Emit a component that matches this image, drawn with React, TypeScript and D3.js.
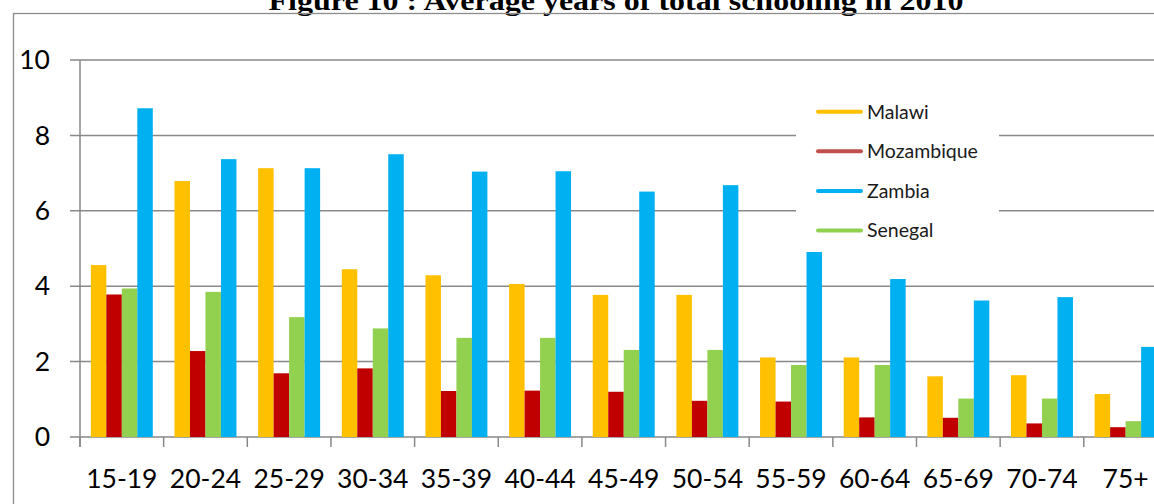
import React from "react";
import * as d3 from "d3";

const categories = ["15-19", "20-24", "25-29", "30-34", "35-39", "40-44", "45-49", "50-54", "55-59", "60-64", "65-69", "70-74", "75+"];
const malawi = [4.56, 6.79, 7.13, 4.45, 4.29, 4.06, 3.77, 3.77, 2.11, 2.11, 1.61, 1.64, 1.14];
const mozambique = [3.78, 2.28, 1.69, 1.82, 1.22, 1.23, 1.2, 0.96, 0.94, 0.52, 0.51, 0.36, 0.26];
const senegal = [3.94, 3.85, 3.18, 2.88, 2.63, 2.63, 2.31, 2.31, 1.91, 1.91, 1.02, 1.02, 0.42];
const zambia = [8.72, 7.37, 7.13, 7.5, 7.04, 7.05, 6.51, 6.68, 4.94, 4.19, 3.62, 3.71, 2.39];
const yTicks = [0, 2, 4, 6, 8, 10];
const legendOrder = ["Malawi", "Mozambique", "Zambia", "Senegal"];
const title = "Figure 10 : Average years of total schooling in 2010";

const series = [
  { name: "Malawi", values: malawi, color: "#FFC000", legendColor: "#FFC000" },
  { name: "Mozambique", values: mozambique, color: "#C00000", legendColor: "#C0504D" },
  { name: "Senegal", values: senegal, color: "#92D050", legendColor: "#92D050" },
  { name: "Zambia", values: zambia, color: "#00B0F0", legendColor: "#00B0F0" },
];

export default function App() {
  const W = 1154, H = 504;
  const left = 80, top = 60, bottom = 437;
  const step = 83.65;
  const x0 = d3.scaleBand<string>().domain(categories).range([left, left + step * categories.length]);
  const x1 = d3.scaleBand<string>().domain(series.map(s => s.name)).range([10.85, step - 10.85]);
  const y = d3.scaleLinear().domain([0, 10]).range([bottom, top]);
  const grid = "#898989";
  const font = "Lato, 'Open Sans', sans-serif";

  return (
    <svg width={W} height={H} style={{ position: "absolute", left: 0, top: 0, background: "#fff" }}>
      <text x={616} y={10} textAnchor="middle" fontFamily="'Liberation Serif', 'Times New Roman', serif" fontWeight="bold" fontSize={27} textLength={695} lengthAdjust="spacingAndGlyphs" fill="#000">{title}</text>
      <rect x={13.5} y={13.5} width={W + 20} height={H} fill="none" stroke="#8c8c8c" strokeWidth={1.3} />
      {yTicks.map(t => (
        <g key={t}>
          <line x1={70} x2={W + 20} y1={y(t)} y2={y(t)} stroke={grid} strokeWidth={1.5} />
          <text x={50} y={y(t)} dy="0.35em" textAnchor="end" fontFamily={font} fontSize={26.5} fill="#000">{t}</text>
        </g>
      ))}
      <line x1={left} x2={left} y1={top} y2={bottom + 10} stroke={grid} strokeWidth={1.5} />
      {categories.map((c, i) => (
        <line key={c} x1={x0(c)! + (i === 0 ? 0 : 0)} x2={x0(c)!} y1={bottom} y2={bottom + 10} stroke={grid} strokeWidth={1.5} />
      ))}
      {series.map(s => (
        <g key={s.name}>
          {s.values.map((v, i) => (
            <rect key={i} x={x0(categories[i])! + x1(s.name)!} y={y(v)} width={x1.bandwidth()} height={bottom - y(v)} fill={s.color} />
          ))}
        </g>
      ))}
      {categories.map(c => (
        <text key={c} x={x0(c)! + x0.bandwidth() / 2} y={488} textAnchor="middle" fontFamily={font} fontSize={26.5} fill="#000">{c}</text>
      ))}
      <g>
        <rect x={796} y={88} width={203} height={164} fill="#fff" />
        {legendOrder.map((name, i) => {
          const s = series.find(q => q.name === name)!;
          const ly = 111.7 + i * 39.6;
          return (
            <g key={name}>
              <line x1={818} x2={861} y1={ly} y2={ly} stroke={s.legendColor} strokeWidth={4} strokeLinecap="round" />
              <text x={867} y={ly} dy="0.35em" fontFamily={font} fontSize={19.5} fill="#1a1a1a">{name}</text>
            </g>
          );
        })}
      </g>
    </svg>
  );
}
